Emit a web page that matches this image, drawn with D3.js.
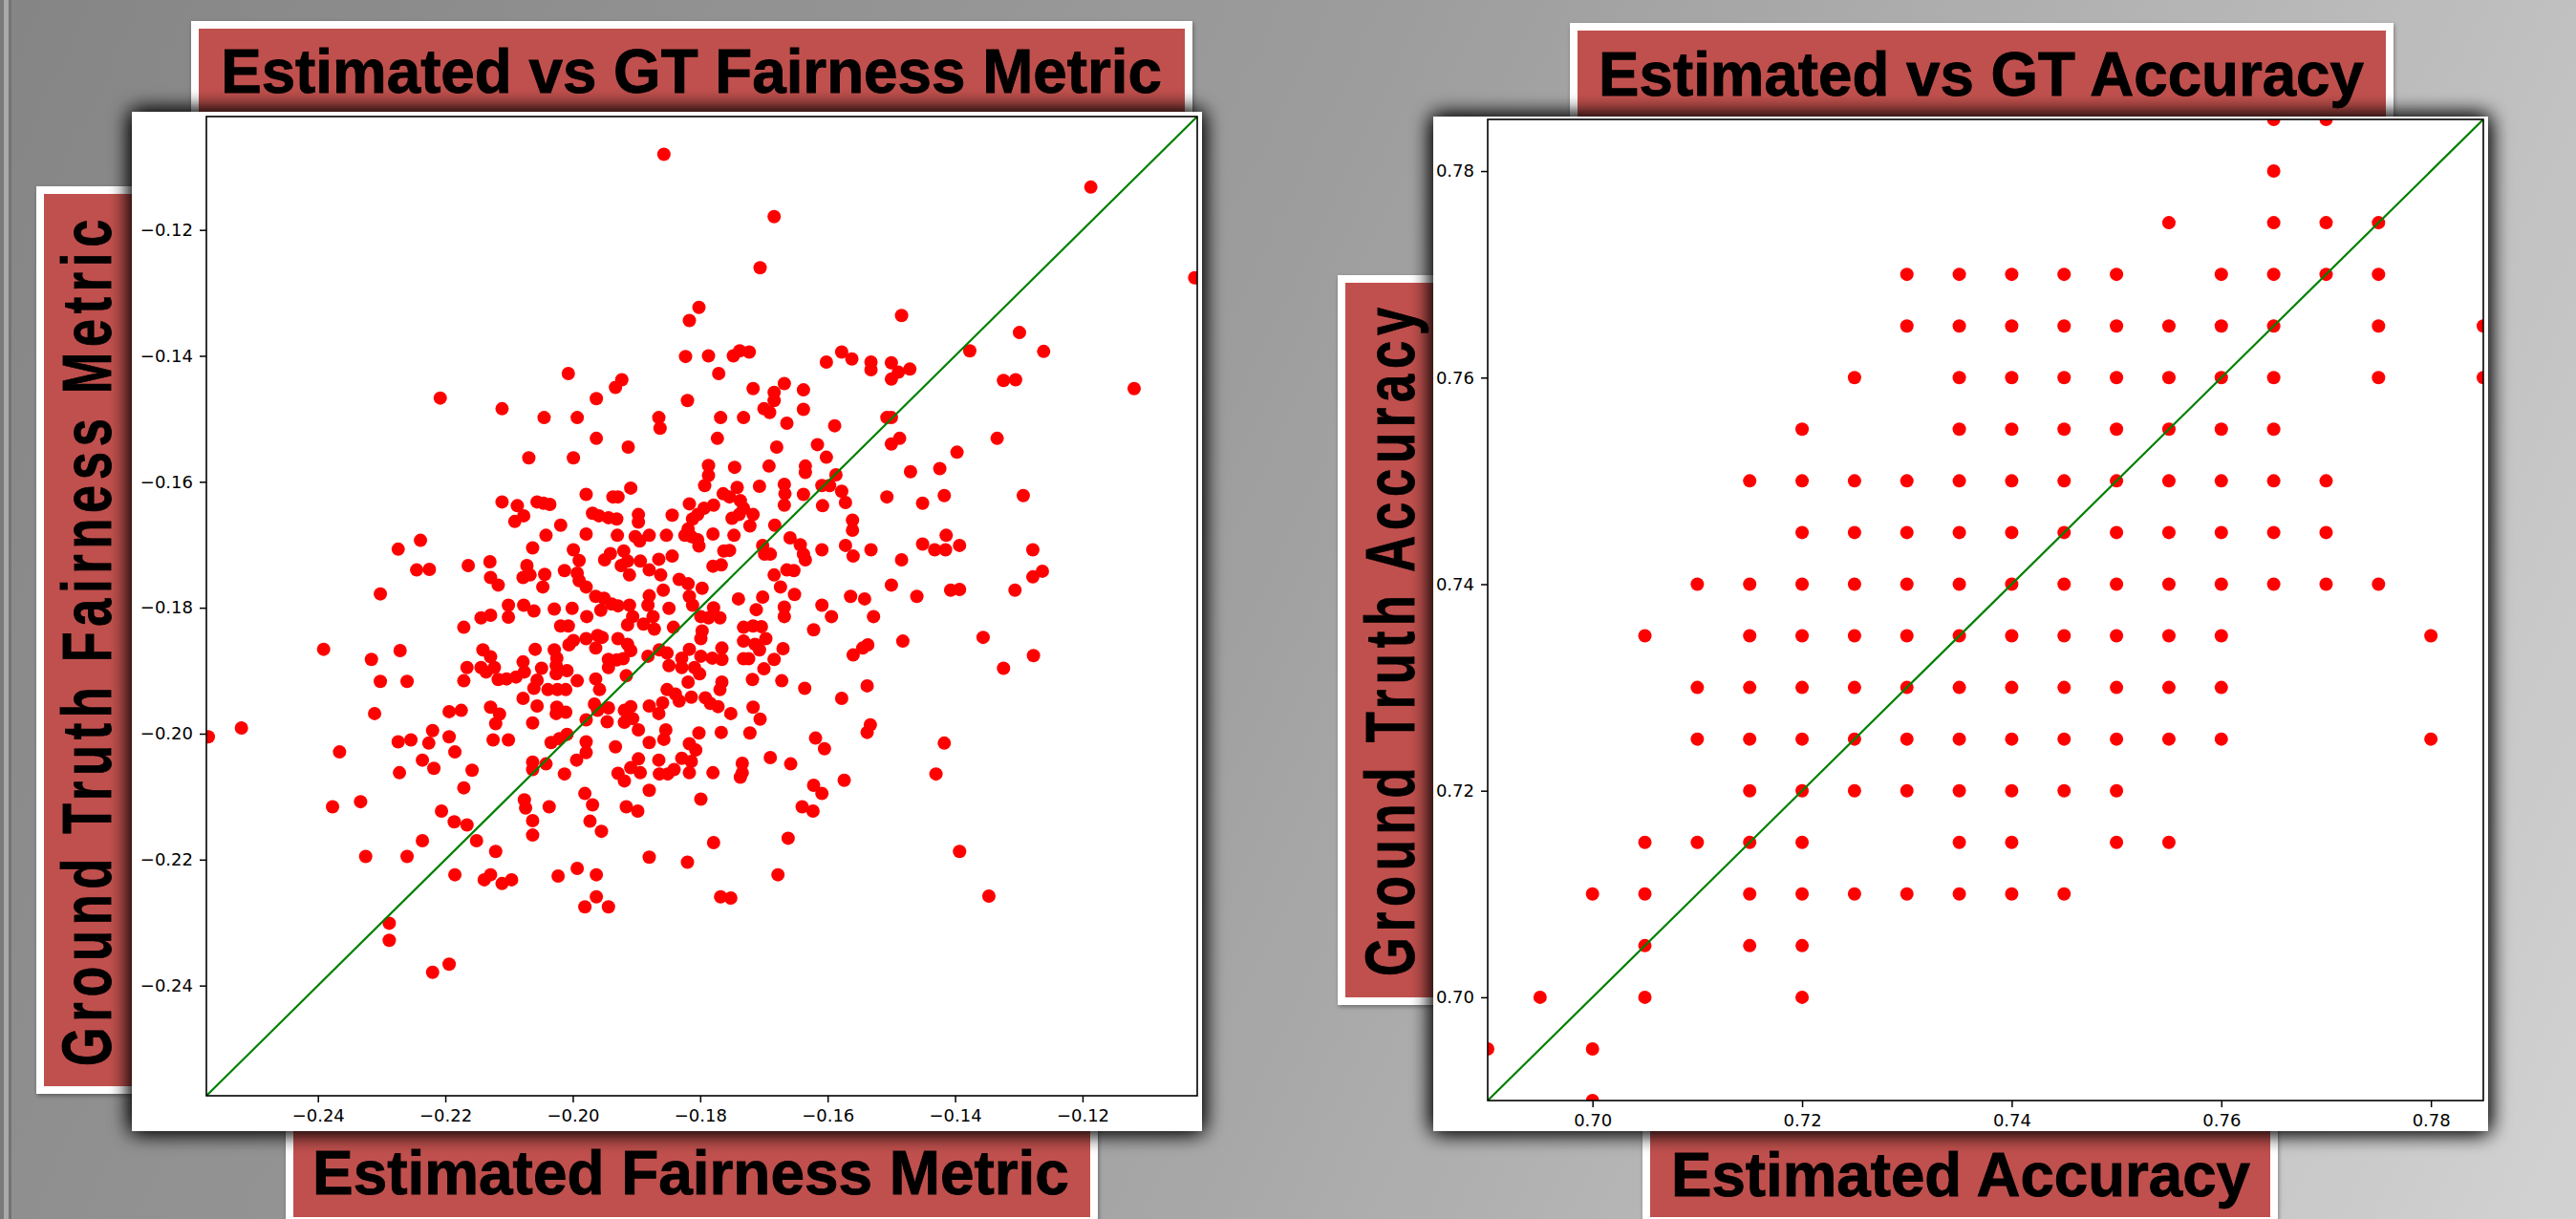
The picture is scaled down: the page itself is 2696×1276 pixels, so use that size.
<!DOCTYPE html>
<html><head><meta charset="utf-8">
<script src="https://cdn.jsdelivr.net/npm/d3@7"></script>
<style>html,body{margin:0;padding:0;overflow:hidden;background:#999}</style>
</head><body>
<script>
// ---------------- DATA ----------------
const fairTicks = [-0.24, -0.22, -0.20, -0.18, -0.16, -0.14, -0.12];
const fairDomain = [-0.2575, -0.1020];
const accTicks = [0.70, 0.72, 0.74, 0.76, 0.78];
const accDomain = [0.69, 0.785];

const titles = ["Estimated vs GT Fairness Metric", "Estimated vs GT Accuracy"];
const xLabels = ["Estimated Fairness Metric", "Estimated Accuracy"];
const yLabels = ["Ground Truth Fairness Metric", "Ground Truth Accuracy"];

// [estimated, ground truth]
const fairPairs = [
[-0.1817,-0.1344],[-0.1823,-0.1401],[-0.1787,-0.1400],[-0.1771,-0.1428],[-0.2007,-0.1428],[-0.1923,-0.1438],[-0.1933,-0.1450],[-0.2208,-0.1467],[-0.1963,-0.1468],[-0.1820,-0.1471],
[-0.2111,-0.1484],[-0.2045,-0.1498],[-0.1993,-0.1498],[-0.1865,-0.1498],[-0.1863,-0.1515],[-0.1768,-0.1498],[-0.1963,-0.1531],[-0.1773,-0.1531],[-0.1913,-0.1545],[-0.2069,-0.1562],
[-0.1999,-0.1562],[-0.1787,-0.1574],[-0.1787,-0.1590],[-0.1793,-0.1606],[-0.1909,-0.1610],[-0.1979,-0.1620],[-0.1937,-0.1624],[-0.1929,-0.1624],[-0.1764,-0.1619],[-0.2111,-0.1632],
[-0.2087,-0.1638],[-0.2056,-0.1632],[-0.2046,-0.1634],[-0.2036,-0.1636],[-0.1817,-0.1635],[-0.1779,-0.1637],[-0.1969,-0.1650],[-0.1959,-0.1654],[-0.1944,-0.1657],[-0.1931,-0.1659],
[-0.1897,-0.1652],[-0.1897,-0.1664],[-0.1844,-0.1653],[-0.1794,-0.1642],[-0.1804,-0.1652],[-0.1812,-0.1659],[-0.2077,-0.1654],[-0.2091,-0.1663],[-0.2019,-0.1669],[-0.2239,-0.1693],
[-0.2042,-0.1685],[-0.1979,-0.1683],[-0.1930,-0.1685],[-0.1902,-0.1687],[-0.1895,-0.1694],[-0.1880,-0.1685],[-0.1853,-0.1685],[-0.1819,-0.1675],[-0.1824,-0.1685],[-0.1814,-0.1687],
[-0.1804,-0.1692],[-0.1802,-0.1702],[-0.1780,-0.1683],[-0.2063,-0.1705],[-0.1999,-0.1708],[-0.1920,-0.1710],[-0.1941,-0.1714],[-0.1950,-0.1724],[-0.1763,-0.1710],[-0.2164,-0.1733],
[-0.2130,-0.1727],[-0.2225,-0.1739],[-0.2245,-0.1740],[-0.2072,-0.1733],[-0.1990,-0.1725],[-0.1865,-0.1723],[-0.1844,-0.1718],[-0.1914,-0.1726],[-0.1894,-0.1726],[-0.1924,-0.1733],
[-0.1780,-0.1734],[-0.1767,-0.1732],[-0.2129,-0.1752],[-0.2117,-0.1764],[-0.2078,-0.1752],[-0.2067,-0.1748],[-0.2044,-0.1747],[-0.2047,-0.1767],[-0.2013,-0.1741],[-0.1993,-0.1745],
[-0.1990,-0.1757],[-0.1979,-0.1767],[-0.1911,-0.1748],[-0.1880,-0.1740],[-0.1862,-0.1748],[-0.1833,-0.1755],[-0.1819,-0.1762],[-0.1858,-0.1772],[-0.1797,-0.1769],[-0.1964,-0.1782],
[-0.1951,-0.1785],[-0.1939,-0.1794],[-0.1956,-0.1804],[-0.1929,-0.1797],[-0.1911,-0.1796],[-0.1880,-0.1781],[-0.1882,-0.1796],[-0.1849,-0.1801],[-0.1817,-0.1782],[-0.1812,-0.1796],
[-0.2101,-0.1796],[-0.2077,-0.1796],[-0.2061,-0.1805],[-0.2029,-0.1802],[-0.2001,-0.1801],[-0.1779,-0.1800],[-0.2144,-0.1816],[-0.2129,-0.1812],[-0.2101,-0.1815],[-0.1978,-0.1814],
[-0.1906,-0.1814],[-0.1874,-0.1814],[-0.1799,-0.1814],[-0.1787,-0.1816],[-0.1769,-0.1816],
[-0.1484,-0.1336],[-0.1299,-0.1363],[-0.1748,-0.1400],[-0.1738,-0.1392],[-0.1723,-0.1394],[-0.1602,-0.1410],[-0.1578,-0.1394],[-0.1562,-0.1405],[-0.1532,-0.1410],[-0.1532,-0.1422],
[-0.1500,-0.1411],[-0.1500,-0.1437],[-0.1489,-0.1426],[-0.1471,-0.1421],[-0.1377,-0.1392],[-0.1324,-0.1439],[-0.1305,-0.1438],[-0.1717,-0.1452],[-0.1684,-0.1458],[-0.1684,-0.1471],
[-0.1668,-0.1444],[-0.1638,-0.1454],[-0.1638,-0.1485],[-0.1700,-0.1484],[-0.1691,-0.1490],[-0.1732,-0.1498],[-0.1664,-0.1507],[-0.1589,-0.1511],[-0.1507,-0.1498],[-0.1500,-0.1498],
[-0.1487,-0.1531],[-0.1500,-0.1540],[-0.1334,-0.1531],[-0.1680,-0.1545],[-0.1616,-0.1541],[-0.1602,-0.1561],[-0.1397,-0.1553],[-0.1746,-0.1577],[-0.1692,-0.1575],[-0.1635,-0.1575],
[-0.1635,-0.1585],[-0.1587,-0.1589],[-0.1470,-0.1584],[-0.1424,-0.1579],[-0.1742,-0.1609],[-0.1707,-0.1607],[-0.1668,-0.1604],[-0.1667,-0.1619],[-0.1668,-0.1637],[-0.1638,-0.1620],
[-0.1609,-0.1606],[-0.1597,-0.1606],[-0.1578,-0.1615],[-0.1572,-0.1633],[-0.1608,-0.1638],[-0.1507,-0.1624],[-0.1451,-0.1634],[-0.1417,-0.1622],[-0.1293,-0.1622],[-0.1754,-0.1624],
[-0.1737,-0.1630],[-0.1732,-0.1642],[-0.1739,-0.1652],[-0.1750,-0.1658],[-0.1717,-0.1652],[-0.1722,-0.1670],[-0.1683,-0.1669],[-0.1561,-0.1661],[-0.1561,-0.1677],[-0.1747,-0.1685],
[-0.1659,-0.1689],[-0.1643,-0.1700],[-0.1702,-0.1701],[-0.1699,-0.1715],[-0.1690,-0.1715],[-0.1754,-0.1709],[-0.1638,-0.1715],[-0.1635,-0.1724],[-0.1609,-0.1708],[-0.1572,-0.1701],
[-0.1560,-0.1718],[-0.1532,-0.1708],[-0.1484,-0.1724],[-0.1451,-0.1699],[-0.1432,-0.1708],[-0.1415,-0.1708],[-0.1414,-0.1685],[-0.1393,-0.1701],[-0.1278,-0.1708],[-0.1684,-0.1748],
[-0.1664,-0.1740],[-0.1653,-0.1741],[-0.1674,-0.1767],[-0.1740,-0.1786],[-0.1702,-0.1783],[-0.1652,-0.1779],[-0.1712,-0.1803],[-0.1668,-0.1799],[-0.1668,-0.1814],[-0.1609,-0.1796],
[-0.1594,-0.1814],[-0.1564,-0.1782],[-0.1542,-0.1786],[-0.1528,-0.1814],[-0.1500,-0.1764],[-0.1460,-0.1782],[-0.1407,-0.1772],[-0.1393,-0.1771],[-0.1306,-0.1772],[-0.1278,-0.1751],
[-0.2171,-0.1831],[-0.2019,-0.1829],[-0.2007,-0.1829],[-0.1914,-0.1827],[-0.1889,-0.1826],[-0.1872,-0.1834],[-0.1842,-0.1831],[-0.1797,-0.1837],[-0.1799,-0.1849],[-0.2141,-0.1867],
[-0.2129,-0.1878],[-0.2166,-0.1895],[-0.2144,-0.1895],[-0.2136,-0.1902],[-0.2123,-0.1895],[-0.2171,-0.1916],[-0.2117,-0.1914],[-0.2104,-0.1913],[-0.2089,-0.1910],[-0.2076,-0.1902],
[-0.2078,-0.1886],[-0.2059,-0.1866],[-0.2049,-0.1896],[-0.2029,-0.1867],[-0.2025,-0.1880],[-0.2026,-0.1892],[-0.2026,-0.1905],[-0.2009,-0.1900],[-0.2006,-0.1859],[-0.1999,-0.1852],
[-0.1979,-0.1849],[-0.1961,-0.1844],[-0.1954,-0.1847],[-0.1964,-0.1864],[-0.1929,-0.1849],[-0.1914,-0.1858],[-0.1909,-0.1868],[-0.1944,-0.1882],[-0.1944,-0.1895],[-0.1931,-0.1883],
[-0.1921,-0.1881],[-0.1916,-0.1908],[-0.1882,-0.1877],[-0.1864,-0.1867],[-0.1852,-0.1872],[-0.1849,-0.1892],[-0.1829,-0.1880],[-0.1829,-0.1895],[-0.1817,-0.1866],[-0.1809,-0.1895],
[-0.1801,-0.1905],[-0.1799,-0.1877],[-0.1781,-0.1880],[-0.1766,-0.1864],[-0.1766,-0.1882],[-0.1819,-0.1918],[-0.2056,-0.1915],[-0.2061,-0.1928],[-0.2039,-0.1930],[-0.2024,-0.1930],
[-0.2011,-0.1930],[-0.1993,-0.1916],[-0.1964,-0.1913],[-0.1958,-0.1930],[-0.2078,-0.1944],[-0.2056,-0.1956],[-0.2025,-0.1958],[-0.2011,-0.1966],[-0.2026,-0.1968],[-0.2063,-0.1983],
[-0.1966,-0.1953],[-0.1961,-0.1963],[-0.1944,-0.1959],[-0.1979,-0.1978],[-0.1946,-0.1981],[-0.1919,-0.1963],[-0.1909,-0.1957],[-0.1919,-0.1982],[-0.1906,-0.1976],[-0.1897,-0.1994],
[-0.1880,-0.1956],[-0.1865,-0.1968],[-0.1859,-0.1951],[-0.1852,-0.1930],[-0.1839,-0.1937],[-0.1833,-0.1948],[-0.1814,-0.1942],[-0.1792,-0.1943],[-0.1784,-0.1952],[-0.1772,-0.1957],
[-0.1769,-0.1930],[-0.1766,-0.1918],[-0.2194,-0.1965],[-0.2175,-0.1963],[-0.2129,-0.1958],[-0.2115,-0.1969],[-0.2121,-0.1984],[-0.2125,-0.2010],[-0.2101,-0.2010],[-0.2220,-0.1995],
[-0.2194,-0.2005],[-0.2226,-0.2015],[-0.2185,-0.2029],[-0.2236,-0.2042],[-0.2218,-0.2055],[-0.2158,-0.2058],[-0.2171,-0.2086],[-0.2206,-0.2123],[-0.2186,-0.2140],[-0.2166,-0.2145],
[-0.2236,-0.2170],[-0.2151,-0.2170],[-0.2121,-0.2187],[-0.2185,-0.2224],[-0.2139,-0.2232],[-0.2129,-0.2224],[-0.2111,-0.2238],[-0.2096,-0.2232],[-0.2034,-0.2014],[-0.2021,-0.2008],
[-0.2009,-0.2001],[-0.1979,-0.2013],[-0.1979,-0.2030],[-0.1994,-0.2042],[-0.2063,-0.2045],[-0.2063,-0.2057],[-0.2042,-0.2048],[-0.2013,-0.2064],[-0.1933,-0.2021],[-0.1897,-0.2040],
[-0.1909,-0.2054],[-0.1929,-0.2063],[-0.1919,-0.2075],[-0.1894,-0.2062],[-0.1880,-0.2014],[-0.1865,-0.2042],[-0.1864,-0.2064],[-0.1851,-0.2064],[-0.1841,-0.2057],[-0.1829,-0.2039],
[-0.1817,-0.2016],[-0.1807,-0.2026],[-0.1814,-0.2044],[-0.1817,-0.2062],[-0.1802,-0.1999],[-0.1767,-0.1998],[-0.1780,-0.2062],[-0.1857,-0.2009],[-0.1854,-0.1994],[-0.1880,-0.2090],
[-0.1799,-0.2104],[-0.1981,-0.2095],[-0.1969,-0.2113],[-0.2076,-0.2105],[-0.2074,-0.2118],[-0.2037,-0.2116],[-0.1916,-0.2116],[-0.1898,-0.2123],[-0.1973,-0.2139],[-0.1955,-0.2155],
[-0.2063,-0.2138],[-0.2063,-0.2161],[-0.1779,-0.2173],[-0.1880,-0.2196],[-0.1820,-0.2204],[-0.2023,-0.2226],[-0.1993,-0.2214],[-0.1963,-0.2224],[-0.1963,-0.2259],[-0.1981,-0.2275],
[-0.1944,-0.2275],[-0.1768,-0.2259],
[-0.1732,-0.1831],[-0.1717,-0.1829],[-0.1704,-0.1830],[-0.1732,-0.1853],[-0.1714,-0.1858],[-0.1697,-0.1849],[-0.1707,-0.1867],[-0.1670,-0.1865],[-0.1684,-0.1882],[-0.1700,-0.1897],
[-0.1732,-0.1881],[-0.1724,-0.1881],[-0.1718,-0.1914],[-0.1672,-0.1916],[-0.1636,-0.1928],[-0.1622,-0.1835],[-0.1560,-0.1875],[-0.1545,-0.1864],[-0.1537,-0.1859],[-0.1482,-0.1853],
[-0.1356,-0.1847],[-0.1324,-0.1896],[-0.1277,-0.1876],[-0.1538,-0.1924],[-0.1578,-0.1944],[-0.1752,-0.1968],[-0.1717,-0.1958],[-0.1706,-0.1977],[-0.1722,-0.1999],[-0.1619,-0.2007],
[-0.1605,-0.2024],[-0.1533,-0.1986],[-0.1538,-0.1998],[-0.1417,-0.2015],[-0.1430,-0.2064],[-0.1690,-0.2038],[-0.1658,-0.2048],[-0.1734,-0.2047],[-0.1734,-0.2062],[-0.1737,-0.2069],
[-0.1622,-0.2082],[-0.1609,-0.2095],[-0.1574,-0.2074],[-0.1640,-0.2116],[-0.1623,-0.2123],[-0.1662,-0.2166],[-0.1393,-0.2187],[-0.1678,-0.2224],[-0.1347,-0.2258],[-0.1752,-0.2261],
[-0.1857,-0.1080],[-0.1802,-0.1323],[-0.2274,-0.1707],[-0.2302,-0.1778],[-0.2391,-0.1866],[-0.2316,-0.1882],[-0.2271,-0.1868],[-0.2302,-0.1917],[-0.2260,-0.1917],[-0.2311,-0.1968],
[-0.2520,-0.1991],[-0.2572,-0.2005],[-0.2366,-0.2029],[-0.2274,-0.2013],[-0.2254,-0.2010],[-0.2272,-0.2062],[-0.2377,-0.2116],[-0.2333,-0.2108],[-0.2325,-0.2195],[-0.2260,-0.2195],
[-0.2288,-0.2301],[-0.2288,-0.2328],[-0.2220,-0.2379],[-0.2194,-0.2366],[-0.1187,-0.1132],[-0.1684,-0.1179],[-0.1706,-0.1260],[-0.1024,-0.1276],[-0.1261,-0.1393],[-0.1119,-0.1452],
[-0.1263,-0.1742]
];

// accuracy: ground-truth level -> list of estimated accuracies at that level
const accGTLevels = [0.785, 0.78, 0.775, 0.77, 0.765, 0.76, 0.755, 0.75, 0.745, 0.74, 0.735, 0.73, 0.725, 0.72, 0.715, 0.71, 0.705, 0.70, 0.695, 0.69];
const accEstByLevel = [
  [0.765, 0.77],
  [0.765],
  [0.755, 0.765, 0.77, 0.775],
  [0.73, 0.735, 0.74, 0.745, 0.75, 0.76, 0.765, 0.77, 0.775],
  [0.73, 0.735, 0.74, 0.745, 0.75, 0.755, 0.76, 0.765, 0.775, 0.785],
  [0.725, 0.735, 0.74, 0.745, 0.75, 0.755, 0.76, 0.765, 0.775, 0.785],
  [0.72, 0.735, 0.74, 0.745, 0.75, 0.755, 0.76, 0.765],
  [0.715, 0.72, 0.725, 0.73, 0.735, 0.74, 0.745, 0.75, 0.755, 0.76, 0.765, 0.77],
  [0.72, 0.725, 0.73, 0.735, 0.74, 0.745, 0.75, 0.755, 0.76, 0.765, 0.77],
  [0.71, 0.715, 0.72, 0.725, 0.73, 0.735, 0.74, 0.745, 0.75, 0.755, 0.76, 0.765, 0.77, 0.775],
  [0.705, 0.715, 0.72, 0.725, 0.73, 0.735, 0.74, 0.745, 0.75, 0.755, 0.76, 0.78],
  [0.71, 0.715, 0.72, 0.725, 0.73, 0.735, 0.74, 0.745, 0.75, 0.755, 0.76],
  [0.71, 0.715, 0.72, 0.725, 0.73, 0.735, 0.74, 0.745, 0.75, 0.755, 0.76, 0.78],
  [0.715, 0.72, 0.725, 0.73, 0.735, 0.74, 0.745, 0.75],
  [0.705, 0.71, 0.715, 0.72, 0.735, 0.74, 0.75, 0.755],
  [0.70, 0.705, 0.715, 0.72, 0.725, 0.73, 0.735, 0.74, 0.745],
  [0.705, 0.715, 0.72],
  [0.695, 0.705, 0.72],
  [0.69, 0.70],
  [0.70]
];

// ---------------- LAYOUT ----------------
const W = 2696, H = 1276;
const RED = "#c0504d";
const layouts = [
  { titleBox:[200,22,1248,160], yBox:[38,195,160,1145], xBox:[299,1160,1149,1282],
    panel:[138,117,1258,1184], axes:[216,122,1253,1147],
    title:{cx:723.5, y:97, len:985}, xl:{cx:723, y:1250, len:792}, yl:{x:116, cy:670, len:892} },
  { titleBox:[1643,24,2505,160], yBox:[1400,288,1520,1052], xBox:[1719,1160,2384,1282],
    panel:[1500,122,2604,1184], axes:[1557,125,2599,1152],
    title:{cx:2073.5, y:100, len:801}, xl:{cx:2052, y:1252, len:606}, yl:{x:1480, cy:669, len:706} }
];

const svg = d3.select("body").append("svg").attr("width", W).attr("height", H)
  .style("display","block");
const defs = svg.append("defs");
const g0 = defs.append("linearGradient").attr("id","bg").attr("gradientUnits","userSpaceOnUse")
  .attr("x1",0).attr("y1",0).attr("x2",W).attr("y2",H);
g0.append("stop").attr("offset",0).attr("stop-color","#858585");
g0.append("stop").attr("offset",0.45).attr("stop-color","#9d9d9d");
g0.append("stop").attr("offset",1).attr("stop-color","#d2d2d2");

const f = defs.append("filter").attr("id","shadow").attr("x","-10%").attr("y","-10%").attr("width","120%").attr("height","120%");
f.append("feGaussianBlur").attr("in","SourceAlpha").attr("stdDeviation",11).attr("result","b");
f.append("feFlood").attr("flood-color","#000").attr("flood-opacity",0.9).attr("result","c");
f.append("feComposite").attr("in","c").attr("in2","b").attr("operator","in").attr("result","s");
const fm = f.append("feMerge");
fm.append("feMergeNode").attr("in","s");
fm.append("feMergeNode").attr("in","s");
fm.append("feMergeNode").attr("in","SourceGraphic");

const f2 = defs.append("filter").attr("id","boxshadow").attr("x","-10%").attr("y","-10%").attr("width","120%").attr("height","120%");
f2.append("feGaussianBlur").attr("in","SourceAlpha").attr("stdDeviation",2).attr("result","b");
f2.append("feOffset").attr("in","b").attr("dx",1).attr("dy",2).attr("result","o");
f2.append("feFlood").attr("flood-color","#000").attr("flood-opacity",0.35).attr("result","c");
f2.append("feComposite").attr("in","c").attr("in2","o").attr("operator","in").attr("result","s");
const fm2 = f2.append("feMerge");
fm2.append("feMergeNode").attr("in","s");
fm2.append("feMergeNode").attr("in","SourceGraphic");

svg.append("rect").attr("width",W).attr("height",H).attr("fill","url(#bg)");
// slide edge strip on the left
svg.append("rect").attr("x",0).attr("y",0).attr("width",4).attr("height",H).attr("fill","#7a7a7a");
svg.append("rect").attr("x",4).attr("y",0).attr("width",5).attr("height",H).attr("fill","#a9a9a9");
svg.append("rect").attr("x",9).attr("y",0).attr("width",3).attr("height",H).attr("fill","#747474");

function box(b){
  svg.append("rect").attr("x",b[0]).attr("y",b[1]).attr("width",b[2]-b[0]).attr("height",b[3]-b[1])
    .attr("fill","#fff").attr("filter","url(#boxshadow)");
  svg.append("rect").attr("x",b[0]+8).attr("y",b[1]+8).attr("width",b[2]-b[0]-16).attr("height",b[3]-b[1]-16)
    .attr("fill",RED);
}

// big label text, squeezed horizontally (along its own direction) to a target length
function bigText(str, tx, ty, rot, len, family, size, spacing){
  const t = svg.append("text").attr("x",0).attr("y",0).attr("text-anchor","middle")
    .attr("font-family",family).attr("font-weight","bold").attr("font-size",size)
    .attr("letter-spacing",spacing).attr("fill","#000").attr("stroke","#000").attr("stroke-width",0.9)
    .text(str);
  const natural = t.node().getComputedTextLength();
  const s = len / natural;
  t.attr("transform",`translate(${tx},${ty}) rotate(${rot}) scale(${s},1)`);
  return t;
}

function chart(i, xDomain, yDomain, xTicks, yTicks, points){
  const L = layouts[i];
  box(L.titleBox); box(L.yBox); box(L.xBox);
  const narrow = "'Liberation Sans Narrow','Liberation Sans',Arial,sans-serif";
  bigText(titles[i], L.title.cx, L.title.y, 0, L.title.len, narrow, 65, 0);
  bigText(xLabels[i], L.xl.cx, L.xl.y, 0, L.xl.len, narrow, 65, 0);
  bigText(yLabels[i], L.yl.x, L.yl.cy, -90, L.yl.len, "'Liberation Sans',Arial,sans-serif", 72, 8);

  const p = L.panel;
  svg.append("rect").attr("x",p[0]).attr("y",p[1]).attr("width",p[2]-p[0]).attr("height",p[3]-p[1])
    .attr("fill","#fff").attr("filter","url(#shadow)");

  const a = L.axes;
  const x = d3.scaleLinear().domain(xDomain).range([a[0], a[2]]);
  const y = d3.scaleLinear().domain(yDomain).range([a[3], a[1]]);
  const cid = "clip"+i;
  defs.append("clipPath").attr("id",cid).append("rect")
    .attr("x",a[0]).attr("y",a[1]).attr("width",a[2]-a[0]).attr("height",a[3]-a[1]);
  const plot = svg.append("g").attr("clip-path",`url(#${cid})`);
  plot.selectAll("circle").data(points).join("circle")
    .attr("cx",d=>x(d[0])).attr("cy",d=>y(d[1])).attr("r",7).attr("fill","#ff0000");
  const lo = Math.max(xDomain[0], yDomain[0]), hi = Math.min(xDomain[1], yDomain[1]);
  plot.append("line").attr("x1",x(lo)).attr("y1",y(lo)).attr("x2",x(hi)).attr("y2",y(hi))
    .attr("stroke","#008000").attr("stroke-width",2.2);

  const fmt = d3.format(".2f");
  const gx = svg.append("g").attr("transform",`translate(0,${a[3]})`)
    .call(d3.axisBottom(x).tickValues(xTicks).tickFormat(fmt).tickSize(7).tickPadding(7));
  const gy = svg.append("g").attr("transform",`translate(${a[0]},0)`)
    .call(d3.axisLeft(y).tickValues(yTicks).tickFormat(fmt).tickSize(7).tickPadding(7));
  [gx, gy].forEach(g => {
    g.select(".domain").remove();
    g.selectAll("line").attr("stroke","#000").attr("stroke-width",1.5);
    g.selectAll("text").attr("font-family","'DejaVu Sans',sans-serif").attr("font-size",18).attr("fill","#000");
  });
  svg.append("rect").attr("x",a[0]).attr("y",a[1]).attr("width",a[2]-a[0]).attr("height",a[3]-a[1])
    .attr("fill","none").attr("stroke","#000").attr("stroke-width",1.6);
}

chart(0, fairDomain, fairDomain, fairTicks, fairTicks, fairPairs);
const accPairs = [];
accGTLevels.forEach((gt, k) => accEstByLevel[k].forEach(e => accPairs.push([e, gt])));
chart(1, accDomain, accDomain, accTicks, accTicks, accPairs);
</script>
</body></html>
